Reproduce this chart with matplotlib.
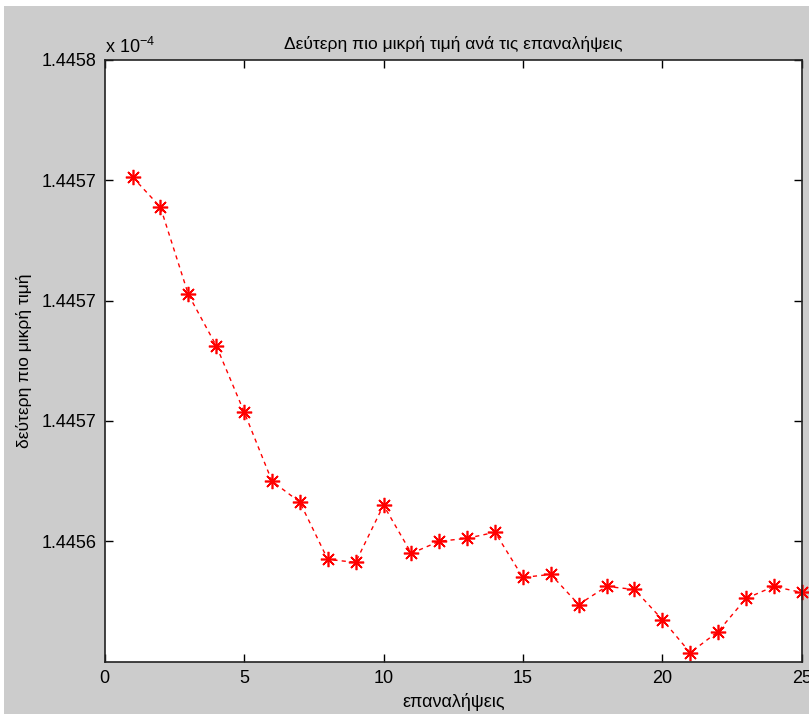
import matplotlib
matplotlib.use("Agg")
import matplotlib.pyplot as plt
from matplotlib.patches import Rectangle
from matplotlib.ticker import FormatStrFormatter

plt.rcParams['font.family'] = ['Liberation Sans', 'DejaVu Sans']
plt.rcParams['mathtext.default'] = 'regular'

iterations = list(range(1, 26))
# values in units of 1e-4
values = [1.445741, 1.445731, 1.445702, 1.445685, 1.445663, 1.445640, 1.445633,
          1.445614, 1.445613, 1.445632, 1.445616, 1.445620, 1.445621, 1.445623,
          1.445608, 1.445609, 1.445599, 1.445605, 1.445604, 1.445594, 1.445583,
          1.445590, 1.445601, 1.445605, 1.445603]
yticks = [1.44562, 1.44566, 1.44570, 1.44574, 1.44578]
xticks = [0, 5, 10, 15, 20, 25]

title = "Δεύτερη πιο μικρή τιμή ανά τις επαναλήψεις"
xlabel = "επαναλήψεις"
ylabel = "δεύτερη πιο μικρή τιμή"

W, H = 809, 714
fig = plt.figure(figsize=(W / 100, H / 100), dpi=100)
fig.patch.set_facecolor('white')
fig.patches.append(Rectangle((4 / W, 0), 1, (H - 6) / H, transform=fig.transFigure,
                             facecolor='#cccccc', edgecolor='none', zorder=-10))

ax = fig.add_axes([104.7 / W, (H - 661.7) / H, (801.7 - 104.7) / W, (661.7 - 59.7) / H])
ax.set_facecolor('white')
ax.plot(iterations, values, color='red', linestyle='--', dashes=(3, 3), linewidth=1.0,
        clip_on=False)
ax.plot(iterations, values, linestyle='none', marker=(8, 2, 0), markersize=11,
        markeredgewidth=1.2, color='red', clip_on=False)
ax.plot(iterations, values, linestyle='none', marker='o', markersize=3.5,
        markeredgewidth=0, color='red', clip_on=False)
ax.set_xlim(0, 25)
ax.set_ylim(1.44558, 1.44578)
ax.set_xticks(xticks)
ax.set_yticks(yticks)
ax.yaxis.set_major_formatter(FormatStrFormatter('%.4f'))
ax.tick_params(direction='in', length=6, width=1, top=True, right=True,
               labelsize=13, colors='black', pad=6)
for s in ax.spines.values():
    s.set_color('#222222')
    s.set_linewidth(1.2)

ax.set_title(title, fontsize=12.5, pad=8)
ax.set_xlabel(xlabel, fontsize=13, labelpad=4)
ax.set_ylabel(ylabel, fontsize=12.5, labelpad=7)
ax.text(0.0, 1.005, r'x 10$^{-4}$', transform=ax.transAxes, fontsize=13,
        ha='left', va='bottom')

fig.savefig('out.png', dpi=100, facecolor=fig.get_facecolor())
